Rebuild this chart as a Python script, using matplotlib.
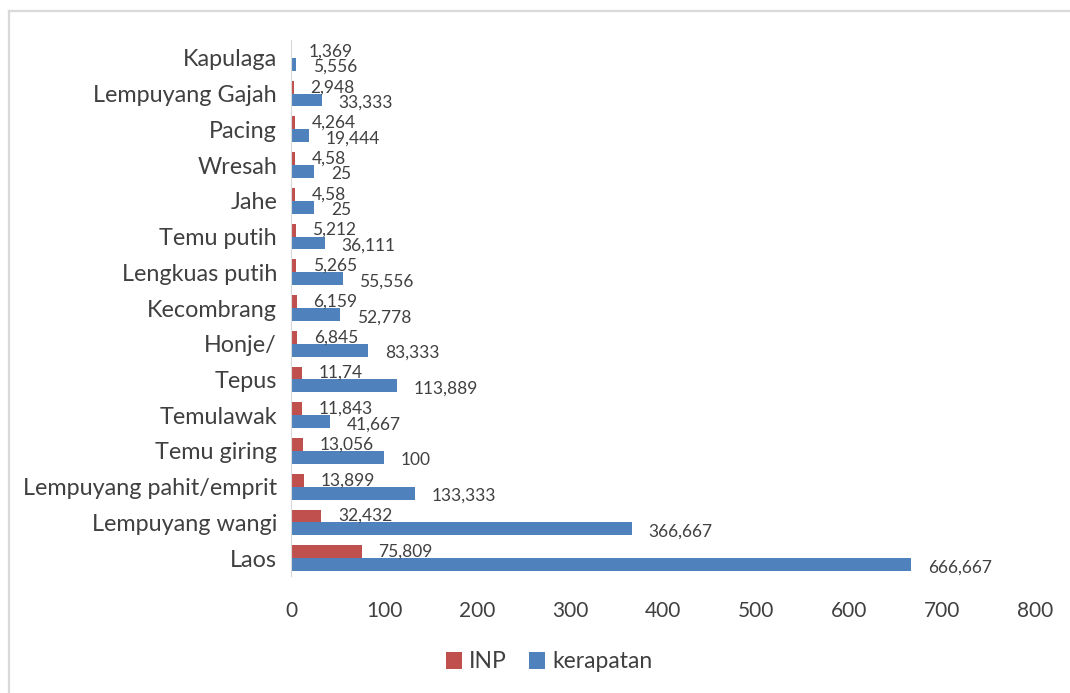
import matplotlib.pyplot as plt
import numpy as np
from matplotlib.lines import Line2D

plt.rcParams['font.family'] = ['Lato', 'DejaVu Sans']

# data, bottom to top as drawn
species = ['Laos', 'Lempuyang wangi', 'Lempuyang pahit/emprit', 'Temu giring',
           'Temulawak', 'Tepus', 'Honje/', 'Kecombrang', 'Lengkuas putih',
           'Temu putih', 'Jahe', 'Wresah', 'Pacing', 'Lempuyang Gajah', 'Kapulaga']
inp = [75.809, 32.432, 13.899, 13.056, 11.843, 11.74, 6.845, 6.159, 5.265,
       5.212, 4.58, 4.58, 4.264, 2.948, 1.369]
kerapatan = [666.667, 366.667, 133.333, 100, 41.667, 113.889, 83.333, 52.778,
             55.556, 36.111, 25, 25, 19.444, 33.333, 5.556]
inp_lbl = ['75,809', '32,432', '13,899', '13,056', '11,843', '11,74', '6,845',
           '6,159', '5,265', '5,212', '4,58', '4,58', '4,264', '2,948', '1,369']
ker_lbl = ['666,667', '366,667', '133,333', '100', '41,667', '113,889', '83,333',
           '52,778', '55,556', '36,111', '25', '25', '19,444', '33,333', '5,556']

red = '#C0504D'
blue = '#4F81BD'
txt = '#404040'

fig = plt.figure(figsize=(10.7, 6.93), dpi=100)
# chart frame: only top and left edges show
fig.lines.append(Line2D([9/1070, 1], [1 - 10.5/693, 1 - 10.5/693], transform=fig.transFigure,
                        color='#D9D9D9', linewidth=1.6))
fig.lines.append(Line2D([9/1070, 9/1070], [0, 1 - 10.5/693], transform=fig.transFigure,
                        color='#D9D9D9', linewidth=1.6))

ax = fig.add_axes([291/1070, 1 - 576/693, (1035 - 291)/1070, (576 - 40)/693])
y = np.arange(len(species))
h = 0.36
ax.barh(y + h/2, inp, height=h, color=red, label='INP')
ax.barh(y - h/2, kerapatan, height=h, color=blue, label='kerapatan')

for i in range(len(species)):
    ax.annotate(inp_lbl[i], (inp[i], y[i] + h/2), xytext=(12, 0), textcoords='offset points',
                va='center', ha='left', fontsize=12.5, color=txt)
    ax.annotate(ker_lbl[i], (kerapatan[i], y[i] - h/2), xytext=(12, -2), textcoords='offset points',
                va='center', ha='left', fontsize=12.5, color=txt)

ax.set_xlim(0, 800)
ax.set_ylim(-0.5, len(species) - 0.5)
ax.set_xticks(range(0, 801, 100))
ax.set_yticks(y)
ax.set_yticklabels(species, fontsize=16.8)
ax.tick_params(axis='both', length=0, colors=txt)
ax.tick_params(axis='x', pad=18, labelsize=15)
ax.tick_params(axis='y', pad=10)
for s in ['top', 'right', 'bottom']:
    ax.spines[s].set_visible(False)
ax.spines['left'].set_color('#D9D9D9')

ax.legend(loc='center', bbox_to_anchor=(549/1070, 1 - 662/693), bbox_transform=fig.transFigure,
          ncol=2, frameon=False, fontsize=16.5, handlelength=0.7, handleheight=0.7,
          handletextpad=0.3, columnspacing=1.0, labelcolor=txt)

fig.savefig('out.png', dpi=100)
